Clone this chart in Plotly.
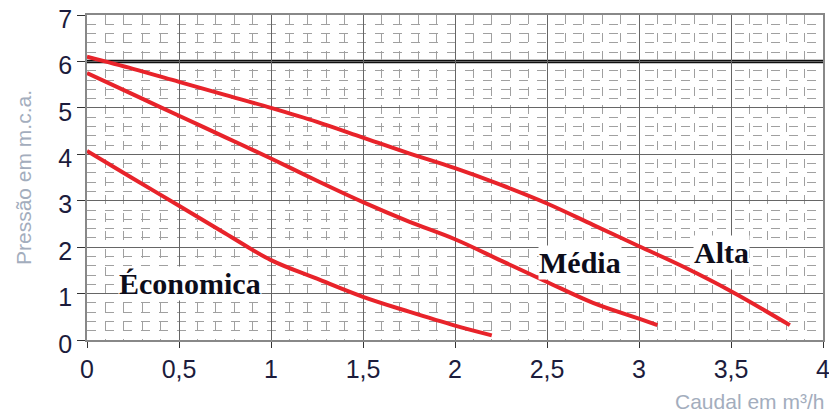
import plotly.graph_objects as go

# Data
alta_x = [0, 0.25, 0.5, 0.75, 1.0, 1.25, 1.5, 1.75, 2.0, 2.25, 2.5, 2.75, 3.0, 3.25, 3.5, 3.82]
alta_y = [6.10, 5.84, 5.56, 5.28, 5.0, 4.70, 4.36, 4.02, 3.70, 3.34, 2.94, 2.48, 2.02, 1.56, 1.05, 0.32]

media_x = [0, 0.25, 0.5, 0.75, 1.0, 1.25, 1.5, 1.75, 2.0, 2.25, 2.5, 2.75, 3.0, 3.10]
media_y = [5.75, 5.29, 4.83, 4.37, 3.91, 3.43, 2.97, 2.55, 2.17, 1.71, 1.25, 0.80, 0.46, 0.32]

econ_x = [0, 0.25, 0.5, 0.75, 1.0, 1.25, 1.5, 1.75, 2.0, 2.2]
econ_y = [4.07, 3.48, 2.89, 2.30, 1.72, 1.32, 0.93, 0.61, 0.31, 0.10]

labels = ["Économica", "Média", "Alta"]
label_x = [0.56, 2.68, 3.45]
label_y = [1.22, 1.67, 1.88]

x_ticks = [0, 0.5, 1, 1.5, 2, 2.5, 3, 3.5, 4]
x_tick_text = ["0", "0,5", "1", "1,5", "2", "2,5", "3", "3,5", "4"]
y_ticks = [0, 1, 2, 3, 4, 5, 6, 7]

RED = "#e8232a"
TITLE_COLOR = "#a3adbd"
TICK_COLOR = "#1c1c3c"

fig = go.Figure()
for xs, ys in [(alta_x, alta_y), (media_x, media_y), (econ_x, econ_y)]:
    fig.add_trace(go.Scatter(x=xs, y=ys, mode="lines",
                             line=dict(color=RED, width=4, shape="spline", smoothing=1.0),
                             showlegend=False, hoverinfo="skip"))

# thick reference line at 6 m.c.a.
fig.add_shape(type="line", xref="paper", x0=0, x1=1, yref="y", y0=6, y1=6,
              line=dict(color="#111111", width=3.5), layer="below")

for t, lx, ly in zip(labels, label_x, label_y):
    fig.add_annotation(x=lx, y=ly, text=f"<b>{t}</b>", showarrow=False,
                       font=dict(family="Liberation Serif", size=30, color="#0d0d1a"),
                       bgcolor="white", borderpad=0)

fig.add_annotation(xref="paper", yref="paper", x=1.004, y=0, xanchor="right", yanchor="top",
                   yshift=-48, text="Caudal em m³/h", showarrow=False,
                   font=dict(family="Liberation Sans", size=21, color=TITLE_COLOR))

fig.update_xaxes(range=[0, 4], tickvals=x_ticks, ticktext=x_tick_text, automargin=False,
                 ticklabeloverflow="allow",
                 showgrid=True, gridcolor="#666666", gridwidth=1.2,
                 minor=dict(dtick=0.1, showgrid=True, gridcolor="#a0a0a0", griddash="dash", gridwidth=1,
                            ticks=""),
                 showline=True, linecolor="#888888", linewidth=1.5, mirror=True,
                 ticks="outside", ticklen=6, tickcolor="#333333",
                 zeroline=False,
                 tickfont=dict(family="Liberation Sans", size=25, color=TICK_COLOR))
fig.update_yaxes(range=[0, 7], tickvals=y_ticks, automargin=False,
                 ticklabeloverflow="allow", ticklabelshift=4,
                 showgrid=True, gridcolor="#666666", gridwidth=1.2,
                 minor=dict(dtick=0.2, showgrid=True, gridcolor="#a0a0a0", griddash="dash", gridwidth=1,
                            ticks=""),
                 showline=True, linecolor="#888888", linewidth=1.5, mirror=True,
                 ticks="outside", ticklen=8, tickcolor="#333333",
                 zeroline=False,
                 tickfont=dict(family="Liberation Sans", size=25, color=TICK_COLOR),
                 title=dict(text="Pressão em m.c.a.", standoff=21,
                            font=dict(family="Liberation Sans", size=21, color=TITLE_COLOR)))

# page body has an 8px margin, so the figure is sized to fit the 837x416 window
fig.update_layout(width=829, height=408, margin=dict(l=79, r=14, t=7, b=76),
                  plot_bgcolor="white", paper_bgcolor="white")

fig.write_html("out.html")
